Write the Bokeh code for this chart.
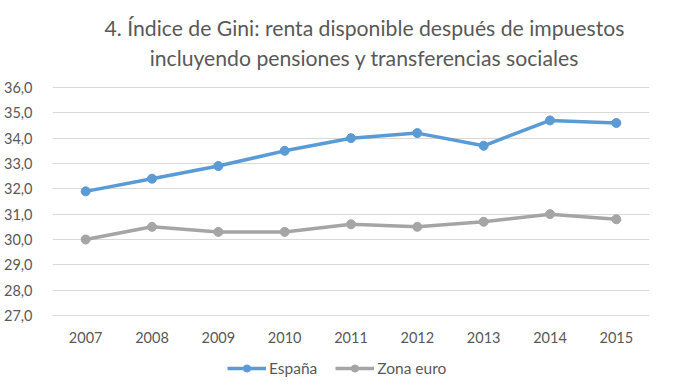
from bokeh.plotting import figure
from bokeh.models import FactorRange, Range1d, FixedTicker, Legend, LegendItem, Label
from bokeh.embed import file_html
from bokeh.resources import INLINE

years = ["2007", "2008", "2009", "2010", "2011", "2012", "2013", "2014", "2015"]
espana = [31.9, 32.4, 32.9, 33.5, 34.0, 34.2, 33.7, 34.7, 34.6]
zona_euro = [30.0, 30.5, 30.3, 30.3, 30.6, 30.5, 30.7, 31.0, 30.8]
y_ticks = [27, 28, 29, 30, 31, 32, 33, 34, 35, 36]
y_tick_labels = ["27,0", "28,0", "29,0", "30,0", "31,0", "32,0", "33,0", "34,0", "35,0", "36,0"]
title_lines = ["4. Índice de Gini: renta disponible después de impuestos",
               "incluyendo pensiones y transferencias sociales"]
series_names = ["España", "Zona euro"]

FONT = "Lato"
TXT = "#595959"
BLUE = "#5B9BD5"
GRAY = "#A5A5A5"

# layout (pixels inside the figure)
W, H = 660, 378
LEFT, RIGHT = 45, 11
TOP_36, BOTTOM_27 = 87, 315          # pixel rows of the first / last grid line
px_per_unit = (BOTTOM_27 - TOP_36) / (max(y_ticks) - min(y_ticks))
y_start = min(y_ticks) - (H - BOTTOM_27) / px_per_unit
y_end = max(y_ticks) + TOP_36 / px_per_unit

p = figure(width=W, height=H, x_range=FactorRange(*years), y_range=Range1d(y_start, y_end),
           output_backend="svg", toolbar_location=None, title=None,
           min_border_left=LEFT, min_border_right=RIGHT, min_border_top=0, min_border_bottom=0)
p.outline_line_color = None
p.background_fill_color = "white"
p.border_fill_color = "white"

p.xgrid.grid_line_color = None
p.ygrid.grid_line_color = "#D9D9D9"
p.ygrid.ticker = FixedTicker(ticks=y_ticks)

p.yaxis.ticker = FixedTicker(ticks=y_ticks)
p.yaxis.major_label_overrides = dict(zip(y_ticks, y_tick_labels))
p.xaxis.fixed_location = min(y_ticks)
for ax in (p.xaxis[0], p.yaxis[0]):
    ax.axis_line_color = None
    ax.major_tick_line_color = None
    ax.minor_tick_line_color = None
    ax.major_label_text_font = FONT
    ax.major_label_text_font_size = "14.5px"
    ax.major_label_text_color = TXT
p.yaxis.major_label_standoff = 14
p.xaxis.major_label_standoff = 10

l1 = p.line(years, espana, line_color=BLUE, line_width=3.5)
c1 = p.scatter(years, espana, size=9, fill_color=BLUE, line_color=BLUE)
l2 = p.line(years, zona_euro, line_color=GRAY, line_width=3.5)
c2 = p.scatter(years, zona_euro, size=9, fill_color=GRAY, line_color=GRAY)

# title (two centred lines)
title_cx = 312
for txt, sy in zip(title_lines, [351, 321]):
    p.add_layout(Label(x=title_cx, y=sy, x_units="screen", y_units="screen", text=txt,
                       text_font=FONT, text_font_size="21.2px", text_color=TXT,
                       text_align="center", text_baseline="middle"))

legend = Legend(items=[LegendItem(label=series_names[0], renderers=[l1, c1]),
                       LegendItem(label=series_names[1], renderers=[l2, c2])],
                orientation="horizontal", location=(175, 1),
                border_line_color=None, background_fill_alpha=0,
                label_text_font=FONT, label_text_font_size="15.5px", label_text_color=TXT,
                glyph_width=39, glyph_height=18, spacing=18, padding=0, margin=0,
                label_standoff=3)
p.add_layout(legend, "center")

open("out.html", "w").write(file_html(p, INLINE))
